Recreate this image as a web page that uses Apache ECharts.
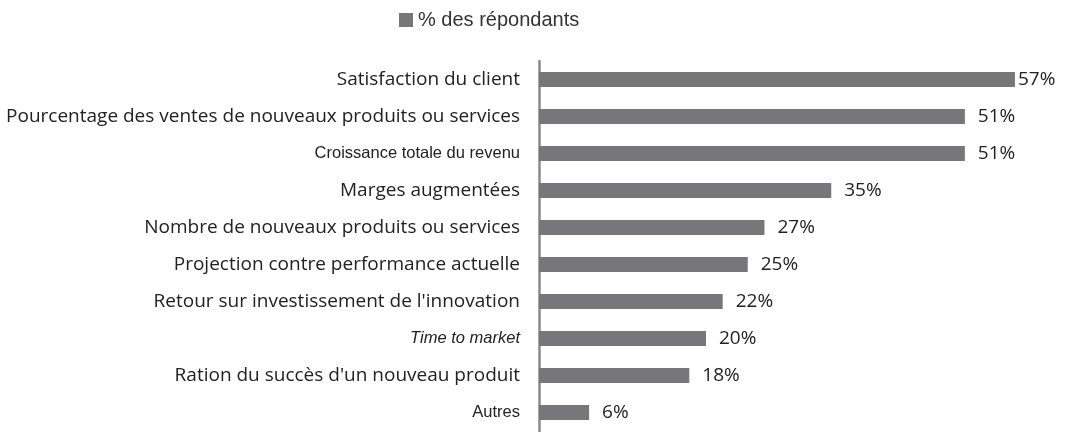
<!DOCTYPE html>
<html>
<head>
<meta charset="utf-8">
<script src="https://cdn.jsdelivr.net/npm/echarts@6/dist/echarts.min.js"></script>
<style>
  html, body { margin: 0; padding: 0; background: #fff; }
  #chart { width: 1069px; height: 432px; }
</style>
</head>
<body>
<div id="chart"></div>
<script>
// categories, top to bottom
var categories = [
    'Satisfaction du client',
    'Pourcentage des ventes de nouveaux produits ou services',
    'Croissance totale du revenu',
    'Marges augmentées',
    'Nombre de nouveaux produits ou services',
    'Projection contre performance actuelle',
    "Retour sur investissement de l'innovation",
    'Time to market',
    "Ration du succès d'un nouveau produit",
    'Autres'
];
var values = [57, 51, 51, 35, 27, 25, 22, 20, 18, 6];
var seriesName = '% des répondants';

// labels set in Arial in the original, the rest look like Calibri
var arialLabels = ['Croissance totale du revenu', 'Autres'];
var italicLabels = ['Time to market'];

var maxVal = Math.max.apply(null, values);

var chart = echarts.init(document.getElementById('chart'));

chart.setOption({
    animation: false,
    legend: {
        data: [seriesName],
        top: 10,
        left: 399,
        padding: 0,
        itemWidth: 14,
        itemHeight: 14,
        icon: 'rect',
        textStyle: { fontFamily: 'Liberation Sans', fontSize: 20, color: '#333' }
    },
    grid: { left: 539, top: 61, height: 370, width: 501 },
    xAxis: {
        type: 'value',
        min: 0,
        max: 60,
        show: false
    },
    yAxis: {
        type: 'category',
        inverse: true,
        data: categories,
        axisLine: { lineStyle: { color: '#8a8a8a', width: 2.5 } },
        axisTick: { show: false },
        axisLabel: {
            margin: 19,
            formatter: function (v) {
                if (italicLabels.indexOf(v) >= 0) return '{i|' + v + '}';
                if (arialLabels.indexOf(v) >= 0) return '{a|' + v + '}';
                return '{c|' + v + '}';
            },
            rich: {
                c: { fontFamily: 'Open Sans', fontSize: 19, color: '#222' },
                a: { fontFamily: 'Liberation Sans', fontSize: 16.5, color: '#222' },
                i: { fontFamily: 'Liberation Sans', fontSize: 16.5, fontStyle: 'italic', color: '#222' }
            }
        }
    },
    series: [{
        name: seriesName,
        type: 'bar',
        barWidth: 15,
        itemStyle: { color: '#77777b' },
        data: values.map(function (v) {
            return {
                value: v,
                label: { distance: v === maxVal ? 3 : 13 }
            };
        }),
        label: {
            show: true,
            position: 'right',
            formatter: '{c}%',
            fontFamily: 'Open Sans',
            fontSize: 19,
            color: '#222'
        }
    }]
});
</script>
</body>
</html>
